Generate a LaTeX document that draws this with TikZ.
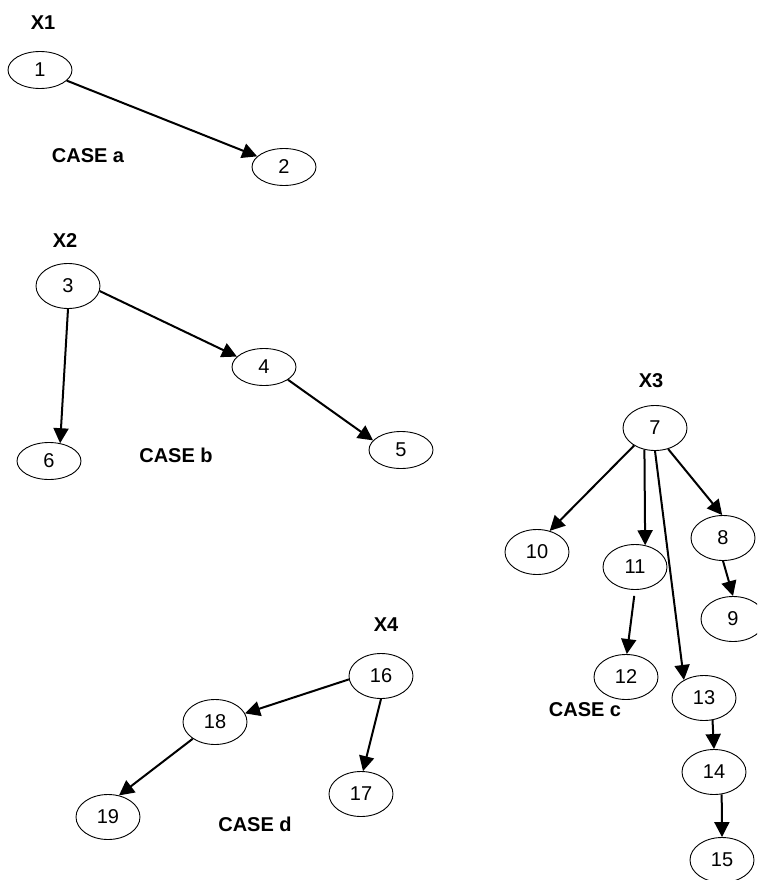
\documentclass[tikz,border=0pt]{standalone}
\usepackage{fontspec}
\setmainfont{Liberation Sans}
\usetikzlibrary{arrows.meta,shapes.geometric}
\begin{document}
\begin{tikzpicture}[x=1pt,y=-1pt,
  nd/.style={ellipse,draw,line width=0.9pt,inner sep=0pt,minimum width=64pt,minimum height=45pt,font=\fontsize{20}{22}\selectfont},
  ndlow/.style={nd,minimum height=37pt},
  lbl/.style={font=\fontsize{20}{24}\selectfont\bfseries},
  arr/.style={line width=2pt,-{Triangle[length=15pt,width=15pt]}}]
\clip (0,0) rectangle (757,880);
\fill[white] (0,0) rectangle (757,880);
% case a
\node[lbl] (x1) at (43,23) {X1};
\node[lbl] (ca) at (88,156) {CASE a};
\node[ndlow] (n1) at (40,70) {1};
\node[ndlow] (n2) at (284,167) {2};
\draw[arr] (n1) -- (n2);
% case b
\node[lbl] (x2) at (65,241) {X2};
\node[lbl] (cb) at (176,455) {CASE b};
\node[nd] (n3) at (68,286) {3};
\node[ndlow] (n4) at (264,367) {4};
\node[ndlow] (n5) at (401,450) {5};
\node[ndlow] (n6) at (49,461) {6};
\draw[arr] (n3.351) -- (n4.159);
\draw[arr] (n3.270) -- (n6.58);
\draw[arr] (n4.332) -- (n5.161);
% case c
\node[lbl] (x3) at (651,381) {X3};
\node[lbl] (cc) at (585,710) {CASE c};
\node[nd] (n7) at (655,428) {7};
\node[nd] (n8) at (723,538) {8};
\node[nd] (n9) at (733,619) {9};
\node[nd] (n10) at (537,552) {10};
\node[nd] (n11) at (635,567) {11};
\node[nd] (n12) at (626,677) {12};
\node[nd] (n13) at (704,698) {13};
\node[nd] (n14) at (714,772) {14};
\node[nd] (n15) at (722,860) {15};
\draw[arr] (n7.220) -- (n10.59);
\draw[arr] (n7.244) -- (n11.65);
\draw[arr] (n7.270) -- (n13.138);
\draw[arr] (n7.302) -- (n8.92);
\draw[arr] (n8.270) -- (n9.90);
\draw[arr,shorten <=6pt] (n11.270) -- (n12.88);
\draw[arr] (n13.291) -- (n14.90);
\draw[arr] (n14.289) -- (n15.90);
% case d
\node[lbl] (x4) at (386,625) {X4};
\node[lbl] (cd) at (255,824) {CASE d};
\node[nd] (n16) at (381,676) {16};
\node[nd] (n18) at (215,722) {18};
\node[nd] (n17) at (361,794) {17};
\node[nd] (n19) at (108,817) {19};
\draw[arr] (n16.186) -- (n18.16);
\draw[arr] (n16.270) -- (n17.85);
\draw[arr] (n18.217) -- (n19.63);
\end{tikzpicture}
\end{document}
